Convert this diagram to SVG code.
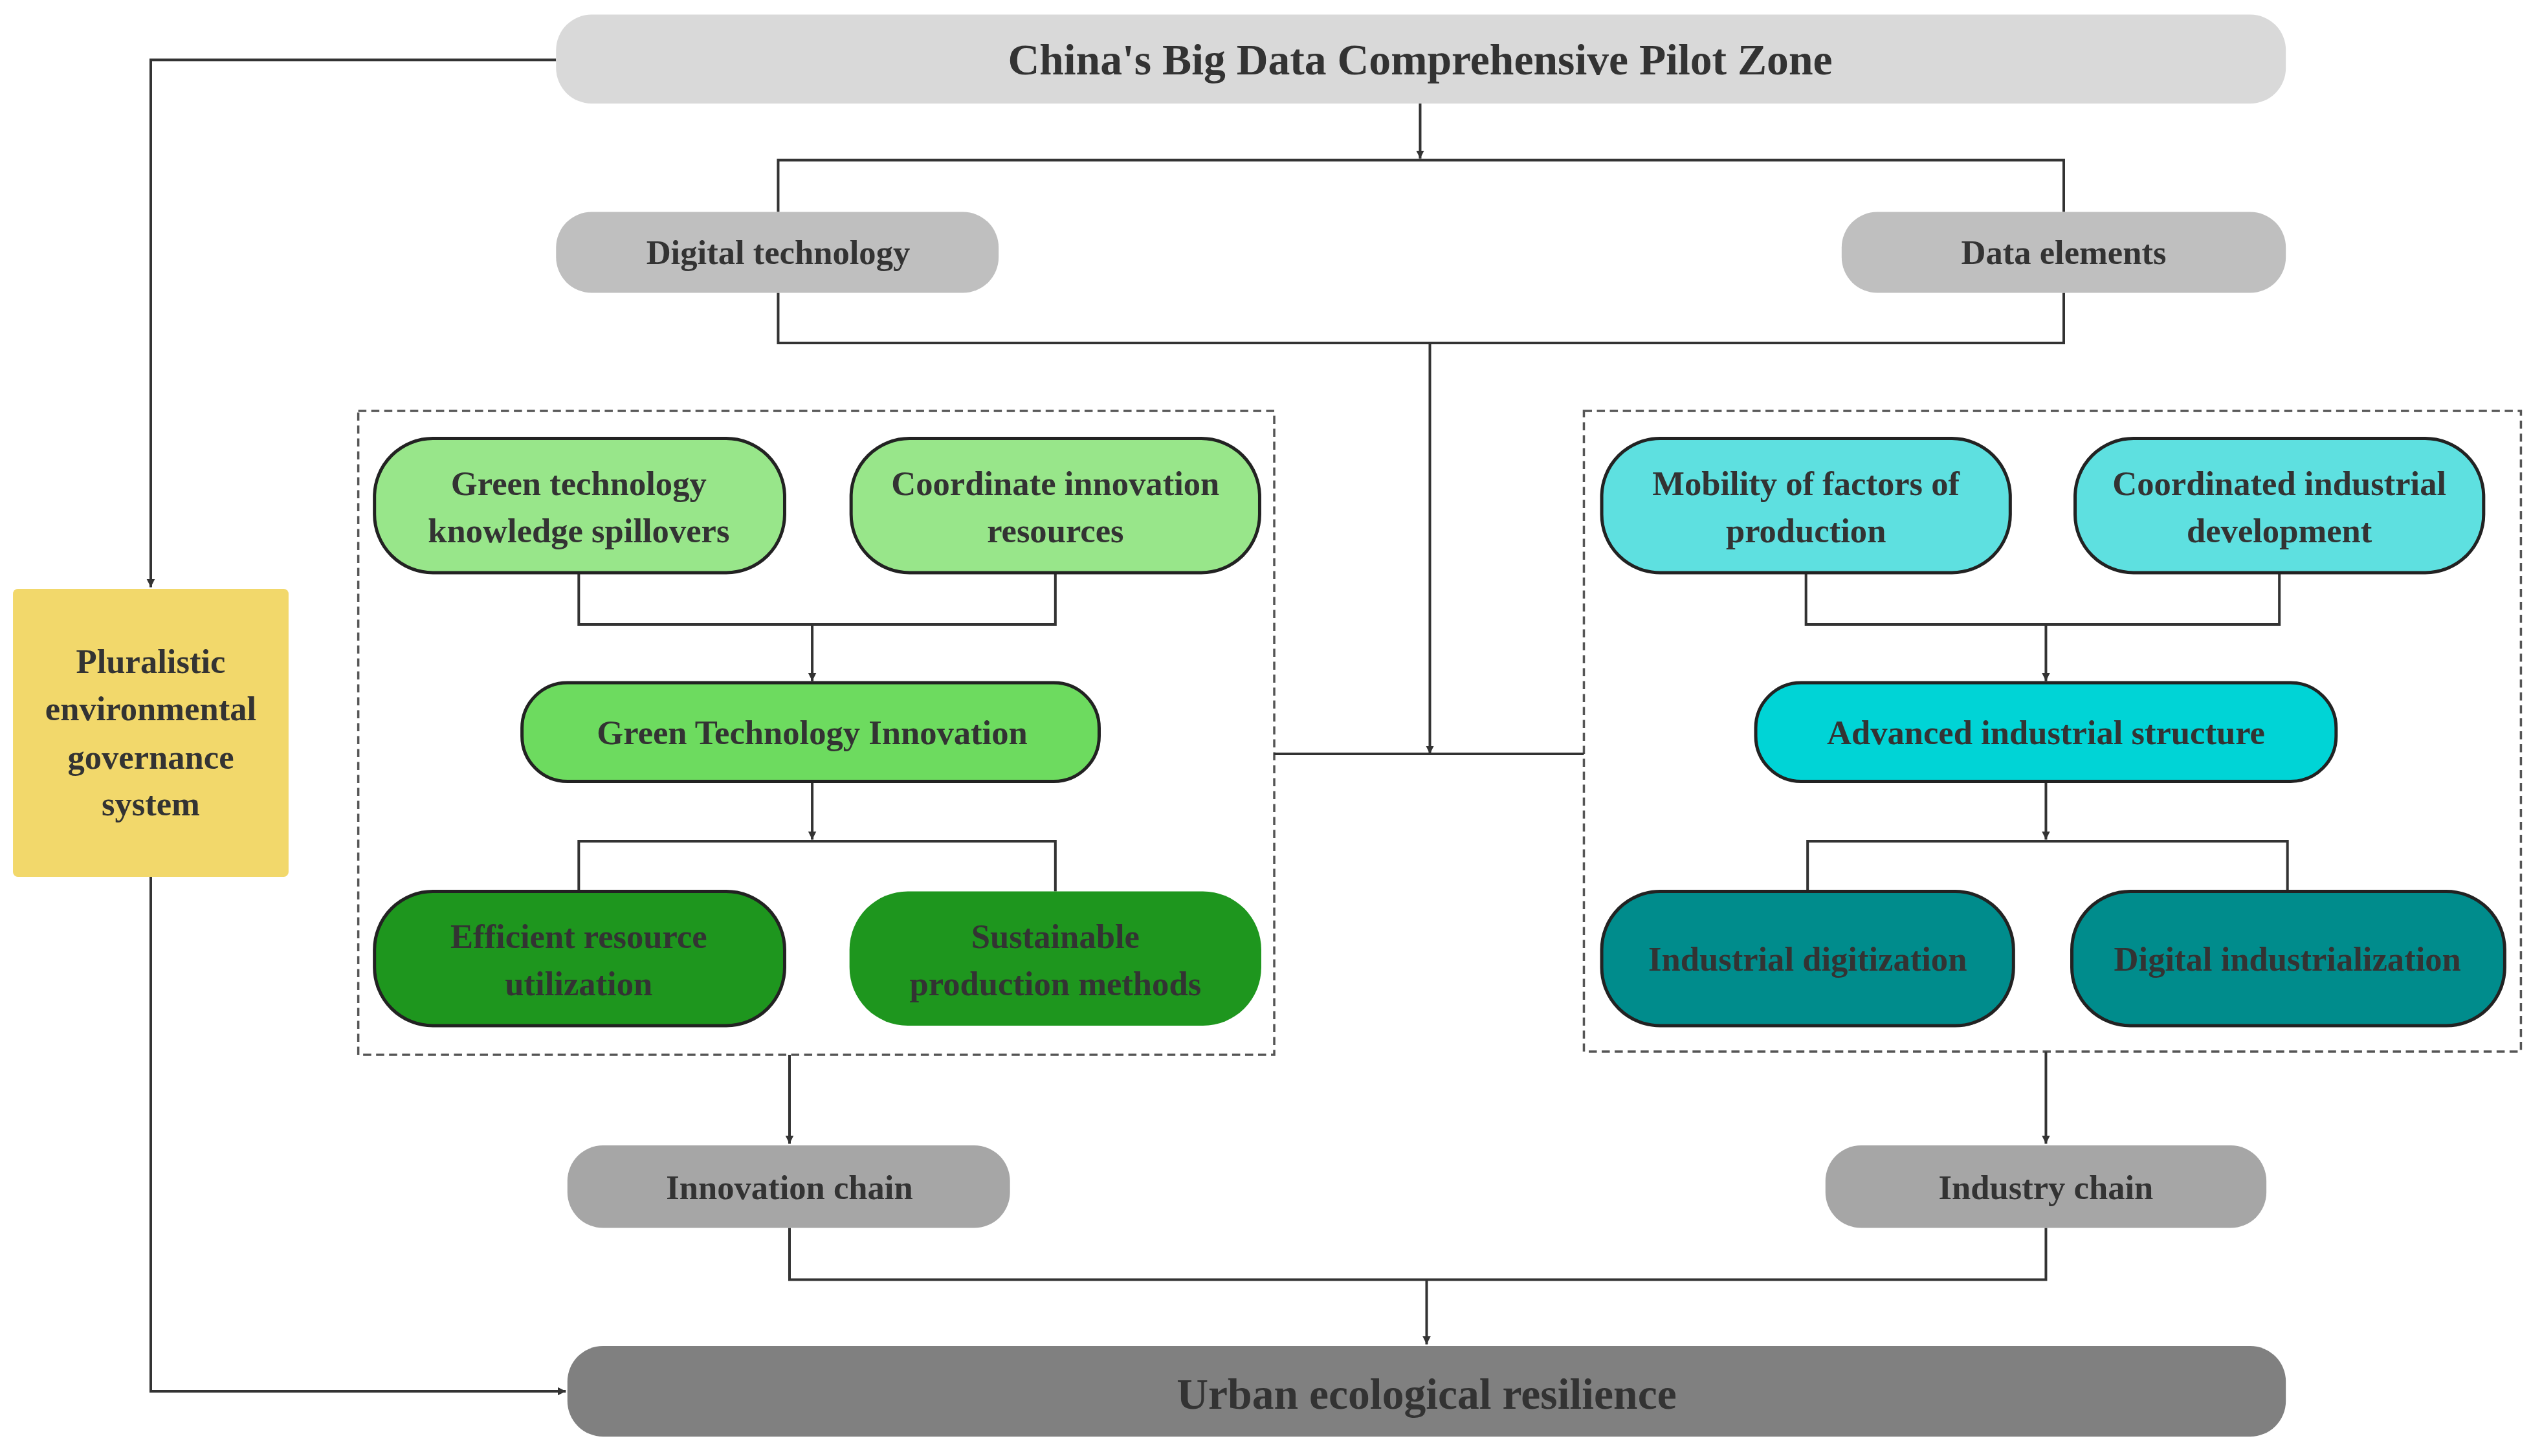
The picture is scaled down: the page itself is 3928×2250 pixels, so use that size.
<svg xmlns="http://www.w3.org/2000/svg" width="3928" height="2250" viewBox="0 0 3928 2250">
<defs>
<marker id="ar" viewBox="0 0 10 10" refX="10" refY="5" markerWidth="5" markerHeight="7" orient="auto" markerUnits="userSpaceOnUse"><path d="M0,0 L10,5 L0,10 Z" fill="#333"/></marker>
<style>
text{font-family:"Liberation Serif","Times New Roman",serif;font-weight:bold;fill:#333;text-anchor:middle;dominant-baseline:central;font-size:21px}
.c{fill:none;stroke:#333;stroke-width:1.6}
.d{fill:none;stroke:#555;stroke-width:1.4;stroke-dasharray:5,3}
.n{stroke:#222;stroke-width:2}
</style>
</defs>
<rect width="3928" height="2250" fill="#fff"/>
<g transform="scale(2.5051,2.5)">
<g id="frames">
<rect class="d" x="221" y="254" width="565" height="398"/>
<rect class="d" x="977" y="254" width="578" height="396"/>
</g>
<g id="connectors">
<path class="c" d="M876,64 V98" marker-end="url(#ar)"/>
<path class="c" d="M480,131 V99 H1273 V131"/>
<path class="c" d="M480,181 V212 H1273 V181 M882,212 V466" marker-end="url(#ar)"/>
<path class="c" d="M786,466 H977"/>
<path class="c" d="M357,354 V386 H651 V354"/>
<path class="c" d="M501,386 V421" marker-end="url(#ar)"/>
<path class="c" d="M501,483 V519" marker-end="url(#ar)"/>
<path class="c" d="M357,551 V520 H651 V551"/>
<path class="c" d="M1114,354 V386 H1406 V354"/>
<path class="c" d="M1262,386 V421" marker-end="url(#ar)"/>
<path class="c" d="M1262,483 V519" marker-end="url(#ar)"/>
<path class="c" d="M1115,551 V520 H1411 V551"/>
<path class="c" d="M487,652 V707" marker-end="url(#ar)"/>
<path class="c" d="M1262,650 V707" marker-end="url(#ar)"/>
<path class="c" d="M487,759 V791 H1262 V759"/>
<path class="c" d="M880,791 V831" marker-end="url(#ar)"/>
<path class="c" d="M343,37 H93 V363" marker-end="url(#ar)"/>
<path class="c" d="M93,542 V860 H349" marker-end="url(#ar)"/>
</g>
<g id="top"><rect x="343" y="9" width="1067" height="55" rx="22" fill="#d9d9d9"/><text x="876" y="37" style="font-size:27px">China's Big Data Comprehensive Pilot Zone</text></g>
<g id="digital"><rect x="343" y="131" width="273" height="50" rx="22" fill="#bfbfbf"/><text x="480" y="156">Digital technology</text></g>
<g id="data"><rect x="1136" y="131" width="274" height="50" rx="22" fill="#bfbfbf"/><text x="1273" y="156">Data elements</text></g>
<g id="gtks"><rect class="n" x="231" y="271" width="253" height="83" rx="36" fill="#98e68a"/><text x="357" y="299">Green technology</text><text x="357" y="328">knowledge spillovers</text></g>
<g id="cir"><rect class="n" x="525" y="271" width="252" height="83" rx="36" fill="#98e68a"/><text x="651" y="299">Coordinate innovation</text><text x="651" y="328">resources</text></g>
<g id="gti"><rect class="n" x="322" y="422" width="356" height="61" rx="28" fill="#6ddb5f"/><text x="501" y="453">Green Technology Innovation</text></g>
<g id="eru"><rect class="n" x="231" y="551" width="253" height="83" rx="36" fill="#1e961e"/><text x="357" y="579">Efficient resource</text><text x="357" y="608">utilization</text></g>
<g id="spm"><rect x="524" y="551" width="254" height="83" rx="36" fill="#1e961e"/><text x="651" y="579">Sustainable</text><text x="651" y="608">production methods</text></g>
<g id="mob"><rect class="n" x="988" y="271" width="252" height="83" rx="36" fill="#5ee0e0"/><text x="1114" y="299">Mobility of factors of</text><text x="1114" y="328">production</text></g>
<g id="cid"><rect class="n" x="1280" y="271" width="252" height="83" rx="36" fill="#5ee0e0"/><text x="1406" y="299">Coordinated industrial</text><text x="1406" y="328">development</text></g>
<g id="ais"><rect class="n" x="1083" y="422" width="358" height="61" rx="28" fill="#00d4d6"/><text x="1262" y="453">Advanced industrial structure</text></g>
<g id="idg"><rect class="n" x="988" y="551" width="254" height="83" rx="36" fill="#008c8c"/><text x="1115" y="593">Industrial digitization</text></g>
<g id="dind"><rect class="n" x="1278" y="551" width="267" height="83" rx="36" fill="#008c8c"/><text x="1411" y="593">Digital industrialization</text></g>
<g id="inno"><rect x="350" y="708" width="273" height="51" rx="22" fill="#a6a6a6"/><text x="487" y="734">Innovation chain</text></g>
<g id="ind"><rect x="1126" y="708" width="272" height="51" rx="22" fill="#a6a6a6"/><text x="1262" y="734">Industry chain</text></g>
<g id="urban"><rect x="350" y="832" width="1060" height="56" rx="22" fill="#808080"/><text x="880" y="862" style="font-size:27px">Urban ecological resilience</text></g>
<g id="plural"><rect x="8" y="364" width="170" height="178" rx="3" fill="#f2d86b"/><text x="93" y="409">Pluralistic</text><text x="93" y="438">environmental</text><text x="93" y="468">governance</text><text x="93" y="497">system</text></g>
</g>
</svg>
